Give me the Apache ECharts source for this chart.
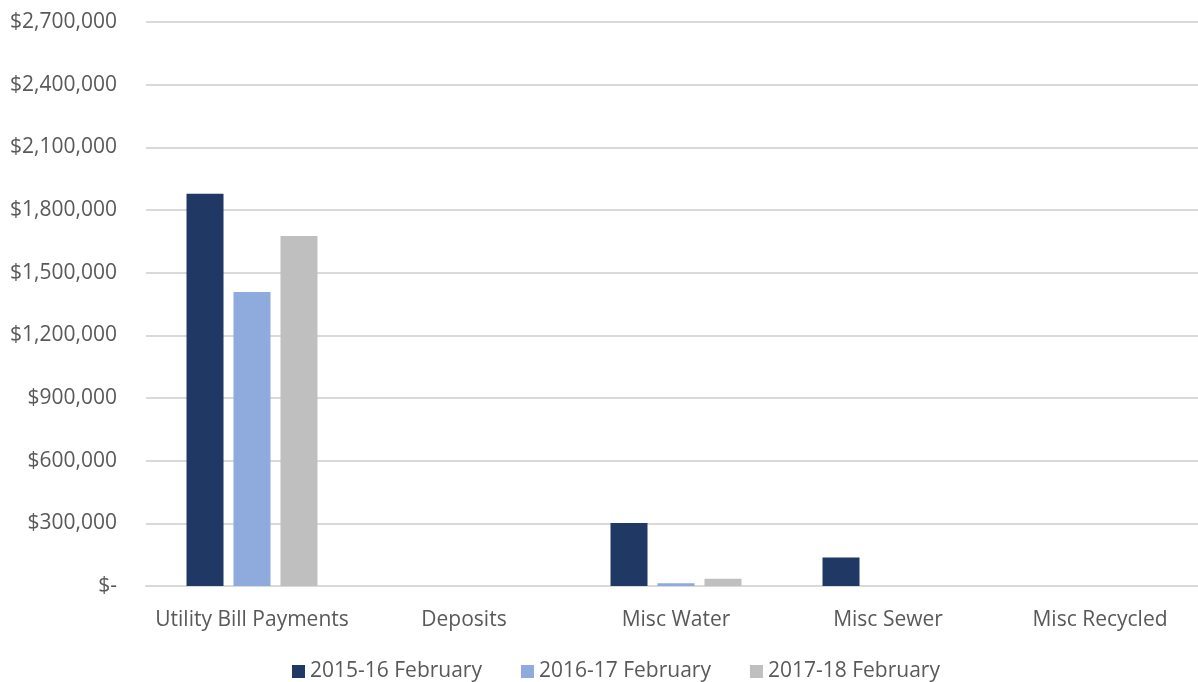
<!DOCTYPE html>
<html lang="en">
<head>
    <meta charset="UTF-8">
    <title>February payments</title>
    <script src="https://cdn.jsdelivr.net/npm/echarts@6/dist/echarts.min.js"></script>
    <style>
        html, body { margin: 0; padding: 0; background: #fff; }
        #main { width: 1198px; height: 682px; }
    </style>
</head>
<body>
<div id="main"></div>
<script>
    // categories and series
    var categories = ['Utility Bill Payments', 'Deposits', 'Misc Water', 'Misc Sewer', 'Misc Recycled'];
    var seriesNames = ['2015-16 February', '2016-17 February', '2017-18 February'];
    var fy1516 = [1878000, 0, 302000, 137000, 0];
    var fy1617 = [1407000, 0, 13000, 0, 0];
    var fy1718 = [1675000, 0, 35000, 0, 0];
    var colors = ['#203864', '#8faadc', '#bfbfbf'];

    var myChart = echarts.init(document.getElementById('main'));

    function money(v) {
        if (v === 0) return '$-';
        return '$' + v.toLocaleString('en-US');
    }

    var textFont = {
        fontFamily: 'Open Sans',
        fontSize: 21,
        color: '#595959'
    };

    var data = [fy1516, fy1617, fy1718];
    var series = [];
    for (var i = 0; i < seriesNames.length; i++) {
        series.push({
            name: seriesNames[i],
            type: 'bar',
            data: data[i],
            barWidth: 37,
            barGap: '27%',
            itemStyle: { color: colors[i] }
        });
    }

    option = {
        animation: false,
        color: colors,
        grid: {
            left: 146,
            width: 1060,
            top: 22,
            bottom: 96,
            outerBoundsMode: 'none'
        },
        legend: {
            top: 656,
            left: 287,
            itemWidth: 13,
            itemHeight: 13,
            itemGap: 39,
            icon: 'rect',
            textStyle: textFont,
            data: seriesNames
        },
        xAxis: {
            type: 'category',
            data: categories,
            axisLine: { lineStyle: { color: '#d9d9d9', width: 2 } },
            axisTick: { show: false },
            axisLabel: Object.assign({ margin: 24, interval: 0 }, textFont)
        },
        yAxis: {
            type: 'value',
            min: 0,
            max: 2700000,
            interval: 300000,
            axisLine: { show: false },
            axisTick: { show: false },
            splitLine: { lineStyle: { color: '#d9d9d9', width: 2 } },
            axisLabel: Object.assign({ margin: 29, formatter: money }, textFont)
        },
        series: series
    };
    myChart.setOption(option);
</script>
</body>
</html>
